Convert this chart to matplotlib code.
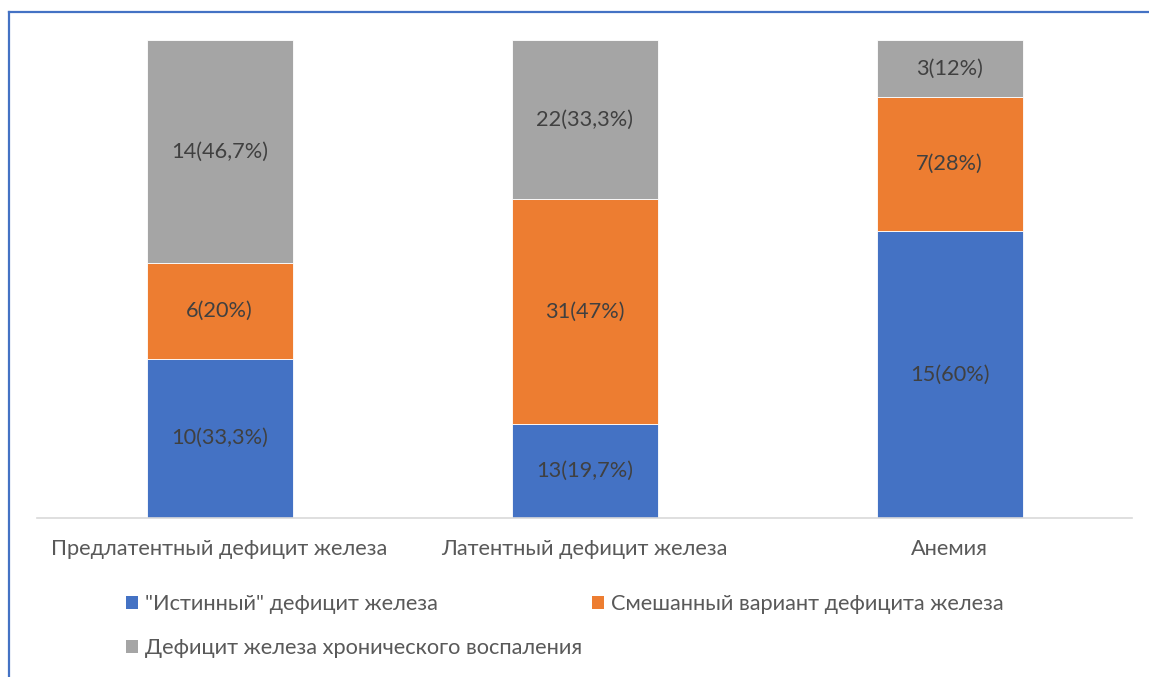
import numpy as np
import matplotlib.pyplot as plt
from matplotlib.patches import Patch
from matplotlib.lines import Line2D

plt.rcParams['font.family'] = ['Lato', 'DejaVu Sans']

categories = ['Предлатентный дефицит железа', 'Латентный дефицит железа', 'Анемия']
series_names = ['"Истинный" дефицит железа', 'Смешанный вариант дефицита железа',
                'Дефицит железа хронического воспаления']
true_def = [10, 13, 15]
mixed_def = [6, 31, 7]
chronic_def = [14, 22, 3]
label_pct = [['33,3%', '19,7%', '60%'],
             ['20%', '47%', '28%'],
             ['46,7%', '33,3%', '12%']]
colors = ['#4472C4', '#ED7D31', '#A5A5A5']

counts = np.array([true_def, mixed_def, chronic_def], dtype=float)
shares = counts / counts.sum(axis=0)

fs = 15.7
fig = plt.figure(figsize=(11.49, 6.77), dpi=100)
ax = fig.add_axes([37 / 1149, 1 - 518 / 677, 1095 / 1149, 478 / 677])

x = np.arange(len(categories))
bottom = np.zeros(len(categories))
for i in range(3):
    ax.bar(x, shares[i], 0.4, bottom=bottom, color=colors[i],
           edgecolor='white', linewidth=0.6)
    for j in range(len(categories)):
        ax.text(x[j], bottom[j] + shares[i][j] / 2,
                '%d(%s)' % (counts[i][j], label_pct[i][j]),
                ha='center', va='center', fontsize=fs, color='#404040')
    bottom += shares[i]

ax.set_xlim(-0.5, 2.5)
ax.set_ylim(0, 1)
ax.set_yticks([])
ax.set_xticks(x)
ax.set_xticklabels(categories, fontsize=fs, color='#595959')
ax.tick_params(axis='x', length=0, pad=15)
for s in ['top', 'right', 'left']:
    ax.spines[s].set_visible(False)
ax.spines['bottom'].set_color('#D9D9D9')
ax.spines['bottom'].set_linewidth(1.2)

# legend entries, two per row
legend_pos = [(126 / 1149, 1 - 604 / 677), (592 / 1149, 1 - 604 / 677),
              (126 / 1149, 1 - 648 / 677)]
for i in range(3):
    h = Patch(facecolor=colors[i], edgecolor='none')
    fig.legend([h], [series_names[i]], loc='center left',
               bbox_to_anchor=legend_pos[i], frameon=False,
               borderaxespad=0, borderpad=0,
               fontsize=fs, handlelength=0.55, handleheight=0.55,
               handletextpad=0.32, labelcolor='#595959')

# outer frame lines (left and top)
fig.add_artist(Line2D([9 / 1149, 9 / 1149], [0, 1 - 12 / 677],
                      color='#4472C4', linewidth=1.6))
fig.add_artist(Line2D([9 / 1149, 1], [1 - 12 / 677, 1 - 12 / 677],
                      color='#4472C4', linewidth=1.6))

fig.savefig('out.png', dpi=100)
